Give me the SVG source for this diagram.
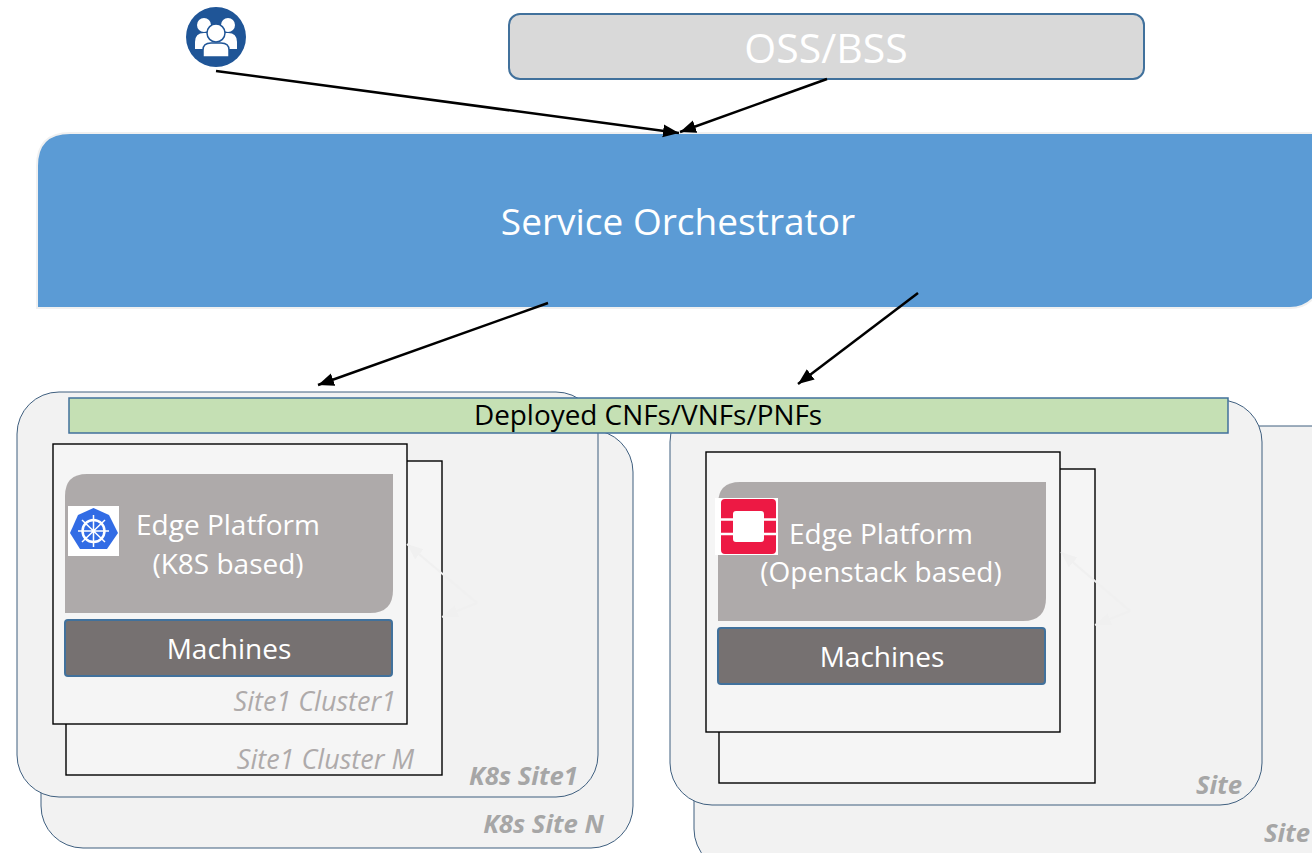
<svg xmlns="http://www.w3.org/2000/svg" width="1312" height="853" viewBox="0 0 1312 853">
<style>
text{font-family:"Open Sans","Noto Sans","Liberation Sans",sans-serif}
.site{fill:#f2f2f2;stroke:#3f5f7f;stroke-width:1}
.cardb{fill:#f5f5f5;stroke:#000;stroke-width:1.4}
.plat{fill:#aeaaaa}
.mach{fill:#767171;stroke:#41719c;stroke-width:2}
.w{fill:#fff;font-size:28px;text-anchor:middle}
.cap{fill:#aeaaaa;font-size:27px;font-style:italic;text-anchor:end}
.capb{fill:#a6a6a6;font-size:25.700px;font-style:italic;font-weight:700;text-anchor:end}
.c{stroke:#000;stroke-width:2.500;fill:none;marker-end:url(#a)}
.ghost{stroke:#f0f0f0;stroke-width:2;fill:none;marker-end:url(#g)}
</style>
<defs>
<marker id="a" markerUnits="userSpaceOnUse" markerWidth="17" markerHeight="14" refX="16" refY="6.500" orient="auto"><path d="M0 0L16 6.500L0 13z" fill="#000"/></marker>
<marker id="g" markerUnits="userSpaceOnUse" markerWidth="17" markerHeight="14" refX="16" refY="6.500" orient="auto"><path d="M0 0L16 6.500L0 13z" fill="#f0f0f0"/></marker>
</defs>
<rect width="1312" height="853" fill="#fff"/>
<g id="site-n"><rect class="site" x="41" y="430" width="592" height="418" rx="42"/><text class="capb" x="604" y="833">K8s Site N</text></g>
<g id="site-r2"><rect class="site" x="694" y="426" width="660" height="445" rx="42"/><text class="capb" x="1310" y="842">Site</text></g>
<g id="site-1"><rect class="site" x="17" y="392" width="581" height="405" rx="42"/><text class="capb" x="578" y="785">K8s Site1</text></g>
<g id="site-r1"><rect class="site" x="670" y="400" width="592" height="405" rx="42"/><text class="capb" x="1242" y="794">Site</text></g>
<g id="cluster-m"><rect class="cardb" x="66" y="461" width="376" height="314"/><text class="cap" x="414" y="769">Site1 Cluster M</text></g>
<g id="cluster-r2"><rect class="cardb" x="719" y="469" width="376" height="314"/></g>
<g id="cluster-1"><rect class="cardb" x="53" y="444" width="354" height="280"/><text class="cap" x="396" y="711">Site1 Cluster1</text></g>
<g id="cluster-r1"><rect class="cardb" x="706" y="452" width="354" height="280"/></g>
<g id="ghosts"><path class="ghost" d="M477 603L407 544"/><path class="ghost" d="M477 603L442 617"/><path class="ghost" d="M1130 611L1061 552"/><path class="ghost" d="M1130 611L1095 625"/></g>
<g id="platform-k8s"><path class="plat" d="M87 474H393V590Q393 613 370 613H65V496Q65 474 87 474Z"/><text class="w" x="228" y="535">Edge Platform</text><text class="w" x="228" y="574">(K8S based)</text>
<rect x="68" y="506" width="51" height="50" fill="#fff"/><path d="M93.500 508L109 515L118 533L107 549L80 549L70 533L78 515Z" fill="#326ce5"/><circle cx="93.500" cy="531" r="11" fill="none" stroke="#fff" stroke-width="2.500"/><path d="M93.500 515V547M78 531H109M82 520L105 542M105 520L82 542" stroke="#fff" stroke-width="1.500"/></g>
<g id="machines-k8s"><rect class="mach" x="65" y="620" width="327" height="56" rx="3"/><text class="w" x="229" y="659">Machines</text></g>
<g id="platform-os"><path class="plat" d="M740 482H1046V598Q1046 621 1023 621H718V504Q718 482 740 482Z"/><text class="w" x="881" y="544">Edge Platform</text><text class="w" x="881" y="582">(Openstack based)</text>
<rect x="715" y="498" width="63" height="57" fill="#fff"/><path fill-rule="evenodd" d="M725 499H772Q776 499 776 503V550Q776 554 772 554H725Q721 554 721 550V503Q721 499 725 499ZM736 511Q733 511 733 514V539Q733 542 736 542H761Q764 542 764 539V514Q764 511 761 511Z" fill="#ed1944"/><path d="M721 519.500H733M764 519.500H776M721 534H733M764 534H776" stroke="#fff" stroke-width="2.500"/></g>
<g id="machines-os"><rect class="mach" x="718" y="628" width="327" height="56" rx="3"/><text class="w" x="882" y="667">Machines</text></g>
<g id="deployed"><rect x="69" y="398" width="1159" height="35" fill="#c5e0b4" stroke="#41719c" stroke-width="1.500"/><text x="648" y="425" text-anchor="middle" fill="#000" style="font-size:27.900px">Deployed CNFs/VNFs/PNFs</text></g>
<g id="orchestrator"><path d="M70 133H1323V275A33 33 0 0 1 1290 308H37V166Q37 133 70 133Z" fill="#5b9bd5" stroke="#f0f0f0" stroke-width="2"/><text class="w" x="678" y="235" style="font-size:37px">Service Orchestrator</text></g>
<g id="oss"><rect x="509" y="14" width="635" height="65" rx="11" fill="#d9d9d9" stroke="#41719c" stroke-width="2"/><text class="w" x="826" y="63" style="font-size:41px">OSS/BSS</text></g>
<g id="user"><circle cx="216" cy="37" r="30" fill="#1f5597"/><g fill="#fff"><circle cx="204" cy="25" r="7"/><circle cx="228" cy="25" r="7"/><path d="M195 49V42Q195 33 204 33H228Q237 33 237 42V49Z"/></g><circle cx="216" cy="33" r="9" fill="#fff" stroke="#1f5597" stroke-width="1.500"/><path d="M203 57V50Q203 43 211 43H221Q229 43 229 50V57Z" fill="#fff" stroke="#1f5597" stroke-width="1.500"/></g>
<g id="connectors"><path class="c" d="M216 71L679 133"/><path class="c" d="M827 79L680 132"/><path class="c" d="M548 303L318 385"/><path class="c" d="M918 293L798 384"/></g>
</svg>
